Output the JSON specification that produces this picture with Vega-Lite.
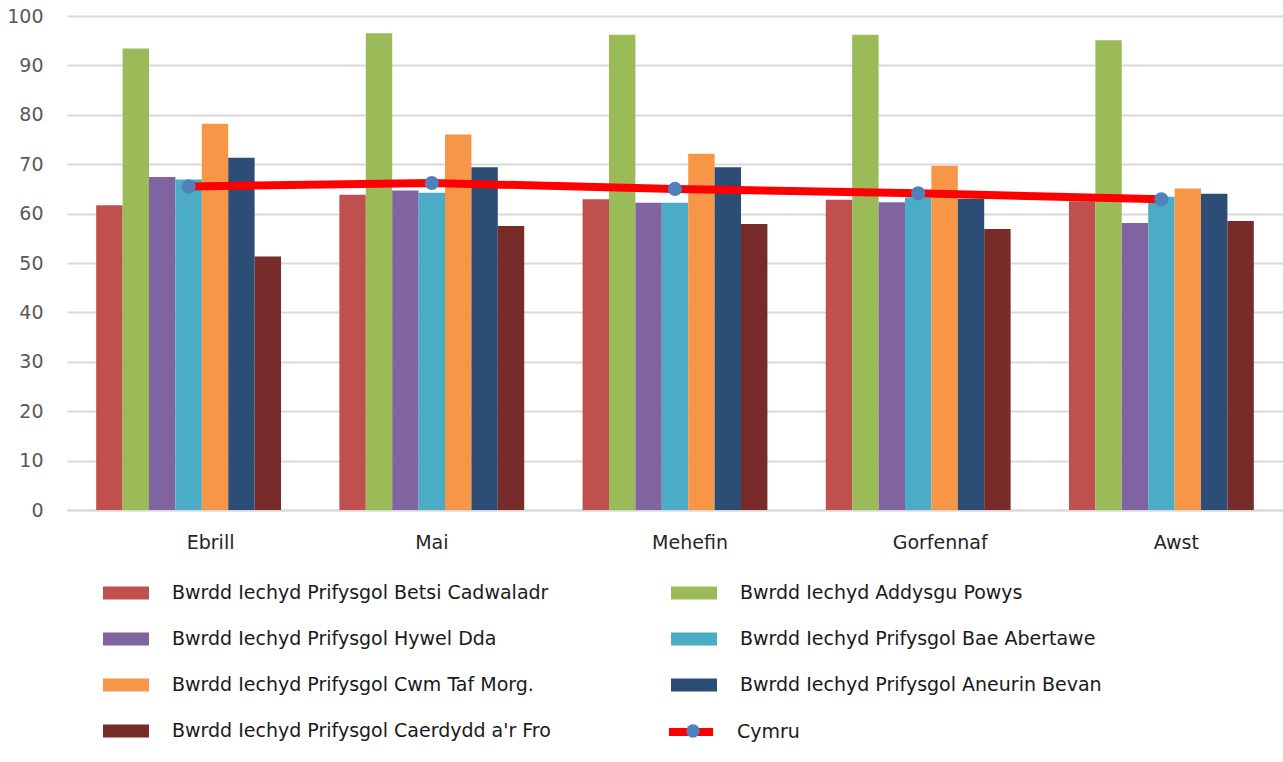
{
  "$schema": "https://vega.github.io/schema/vega-lite/v6.json",
  "width": 1216,
  "height": 494,
  "autosize": {"type": "none"},
  "padding": {"left": 67, "top": 16, "right": 0, "bottom": 252},
  "background": "#ffffff",
  "config": {
    "view": {"stroke": null},
    "font": "DejaVu Sans"
  },
  "datasets": {
    "boards": [
      {"month": "Ebrill", "series": "Bwrdd Iechyd Prifysgol Betsi Cadwaladr", "value": 61.7},
      {"month": "Ebrill", "series": "Bwrdd Iechyd Addysgu Powys", "value": 93.4},
      {"month": "Ebrill", "series": "Bwrdd Iechyd Prifysgol Hywel Dda", "value": 67.4},
      {"month": "Ebrill", "series": "Bwrdd Iechyd Prifysgol Bae Abertawe", "value": 66.9},
      {"month": "Ebrill", "series": "Bwrdd Iechyd Prifysgol Cwm Taf Morg.", "value": 78.2},
      {"month": "Ebrill", "series": "Bwrdd Iechyd Prifysgol Aneurin Bevan", "value": 71.3},
      {"month": "Ebrill", "series": "Bwrdd Iechyd Prifysgol Caerdydd a'r Fro", "value": 51.3},
      {"month": "Mai", "series": "Bwrdd Iechyd Prifysgol Betsi Cadwaladr", "value": 63.8},
      {"month": "Mai", "series": "Bwrdd Iechyd Addysgu Powys", "value": 96.5},
      {"month": "Mai", "series": "Bwrdd Iechyd Prifysgol Hywel Dda", "value": 64.7},
      {"month": "Mai", "series": "Bwrdd Iechyd Prifysgol Bae Abertawe", "value": 64.2},
      {"month": "Mai", "series": "Bwrdd Iechyd Prifysgol Cwm Taf Morg.", "value": 76.0},
      {"month": "Mai", "series": "Bwrdd Iechyd Prifysgol Aneurin Bevan", "value": 69.4},
      {"month": "Mai", "series": "Bwrdd Iechyd Prifysgol Caerdydd a'r Fro", "value": 57.5},
      {"month": "Mehefin", "series": "Bwrdd Iechyd Prifysgol Betsi Cadwaladr", "value": 62.9},
      {"month": "Mehefin", "series": "Bwrdd Iechyd Addysgu Powys", "value": 96.2},
      {"month": "Mehefin", "series": "Bwrdd Iechyd Prifysgol Hywel Dda", "value": 62.2},
      {"month": "Mehefin", "series": "Bwrdd Iechyd Prifysgol Bae Abertawe", "value": 62.2},
      {"month": "Mehefin", "series": "Bwrdd Iechyd Prifysgol Cwm Taf Morg.", "value": 72.1},
      {"month": "Mehefin", "series": "Bwrdd Iechyd Prifysgol Aneurin Bevan", "value": 69.4},
      {"month": "Mehefin", "series": "Bwrdd Iechyd Prifysgol Caerdydd a'r Fro", "value": 57.9},
      {"month": "Gorfennaf", "series": "Bwrdd Iechyd Prifysgol Betsi Cadwaladr", "value": 62.8},
      {"month": "Gorfennaf", "series": "Bwrdd Iechyd Addysgu Powys", "value": 96.2},
      {"month": "Gorfennaf", "series": "Bwrdd Iechyd Prifysgol Hywel Dda", "value": 62.3},
      {"month": "Gorfennaf", "series": "Bwrdd Iechyd Prifysgol Bae Abertawe", "value": 63.3},
      {"month": "Gorfennaf", "series": "Bwrdd Iechyd Prifysgol Cwm Taf Morg.", "value": 69.7},
      {"month": "Gorfennaf", "series": "Bwrdd Iechyd Prifysgol Aneurin Bevan", "value": 63.0},
      {"month": "Gorfennaf", "series": "Bwrdd Iechyd Prifysgol Caerdydd a'r Fro", "value": 56.9},
      {"month": "Awst", "series": "Bwrdd Iechyd Prifysgol Betsi Cadwaladr", "value": 62.5},
      {"month": "Awst", "series": "Bwrdd Iechyd Addysgu Powys", "value": 95.1},
      {"month": "Awst", "series": "Bwrdd Iechyd Prifysgol Hywel Dda", "value": 58.1},
      {"month": "Awst", "series": "Bwrdd Iechyd Prifysgol Bae Abertawe", "value": 63.4},
      {"month": "Awst", "series": "Bwrdd Iechyd Prifysgol Cwm Taf Morg.", "value": 65.1},
      {"month": "Awst", "series": "Bwrdd Iechyd Prifysgol Aneurin Bevan", "value": 64.0},
      {"month": "Awst", "series": "Bwrdd Iechyd Prifysgol Caerdydd a'r Fro", "value": 58.5}
    ],
    "cymru": [
      {"month": "Ebrill", "value": 65.5},
      {"month": "Mai", "value": 66.2},
      {"month": "Mehefin", "value": 65.0},
      {"month": "Gorfennaf", "value": 64.1},
      {"month": "Awst", "value": 62.9}
    ]
  },
  "encoding": {
    "x": {
      "field": "month",
      "type": "nominal",
      "sort": ["Ebrill", "Mai", "Mehefin", "Gorfennaf", "Awst"],
      "scale": {"paddingInner": 0.24, "paddingOuter": 0.12},
      "axis": {
        "title": null,
        "labelAngle": 0,
        "labelFont": "DejaVu Sans",
        "labelFontSize": 19,
        "labelColor": "#262626",
        "labelPadding": 23,
        "labelOffset": {"condition": [{"test": "datum.value === 'Mai'", "value": 0}, {"test": "datum.value === 'Mehefin' || datum.value === 'Awst'", "value": 15}], "value": 22},
        "ticks": false,
        "tickSize": 0,
        "domainColor": "#d9d9d9",
        "domainWidth": 2,
        "grid": false
      }
    },
    "y": {
      "field": "value",
      "type": "quantitative",
      "scale": {"domain": [0, 100], "nice": false},
      "axis": {
        "title": null,
        "values": [0, 10, 20, 30, 40, 50, 60, 70, 80, 90, 100],
        "labelFont": "DejaVu Sans",
        "labelFontSize": 19,
        "labelColor": "#595959",
        "labelPadding": 24,
        "ticks": false,
        "tickSize": 0,
        "domain": false,
        "grid": true,
        "gridColor": "#d9d9d9",
        "gridWidth": 2
      }
    }
  },
  "layer": [
    {
      "data": {"name": "boards"},
      "mark": {"type": "bar"},
      "encoding": {
        "xOffset": {
          "field": "series",
          "type": "nominal",
          "sort": [
            "Bwrdd Iechyd Prifysgol Betsi Cadwaladr",
            "Bwrdd Iechyd Addysgu Powys",
            "Bwrdd Iechyd Prifysgol Hywel Dda",
            "Bwrdd Iechyd Prifysgol Bae Abertawe",
            "Bwrdd Iechyd Prifysgol Cwm Taf Morg.",
            "Bwrdd Iechyd Prifysgol Aneurin Bevan",
            "Bwrdd Iechyd Prifysgol Caerdydd a'r Fro"
          ],
          "scale": {"paddingInner": 0, "paddingOuter": 0}
        },
        "color": {
          "field": "series",
          "type": "nominal",
          "scale": {
            "domain": [
              "Bwrdd Iechyd Prifysgol Betsi Cadwaladr",
              "Bwrdd Iechyd Prifysgol Hywel Dda",
              "Bwrdd Iechyd Prifysgol Cwm Taf Morg.",
              "Bwrdd Iechyd Prifysgol Caerdydd a'r Fro",
              "Bwrdd Iechyd Addysgu Powys",
              "Bwrdd Iechyd Prifysgol Bae Abertawe",
              "Bwrdd Iechyd Prifysgol Aneurin Bevan"
            ],
            "range": ["#c0504d", "#8064a2", "#f79646", "#772c2a", "#9bbb59", "#4bacc6", "#2c4d75"]
          },
          "legend": {
            "title": null,
            "orient": "none",
            "legendX": 44,
            "legendY": 562,
            "columns": 2,
            "direction": "vertical",
            "padding": 0,
            "symbolType": "M-1.533,-0.433H1.533V0.433H-1.533Z",
            "symbolSize": 900,
            "symbolStrokeWidth": 0,
            "symbolOpacity": 1,
            "labelFont": "DejaVu Sans",
            "labelFontSize": 19,
            "labelColor": "#1a1a1a",
            "labelOffset": 31,
            "labelLimit": 1000,
            "rowPadding": 21,
            "columnPadding": 120
          }
        }
      }
    },
    {
      "data": {"name": "cymru"},
      "mark": {"type": "line", "strokeWidth": 8},
      "encoding": {
        "order": {"value": null},
        "stroke": {
          "datum": "Cymru",
          "scale": {"domain": ["Cymru"], "range": ["#ff0000"]},
          "legend": {
            "title": null,
            "orient": "none",
            "legendX": 605,
            "legendY": 697,
            "padding": 0,
            "symbolType": "M-1.47,0H1.47",
            "symbolSize": 900,
            "symbolStrokeWidth": 8,
            "labelFont": "DejaVu Sans",
            "labelFontSize": 19,
            "labelColor": "#1a1a1a",
            "labelOffset": 27
          }
        }
      }
    },
    {
      "data": {"name": "cymru"},
      "mark": {"type": "point", "filled": true, "opacity": 1, "size": 200},
      "encoding": {
        "fill": {
          "datum": "dot",
          "scale": {"domain": ["dot"], "range": ["#4f81bd"]},
          "legend": {
            "title": null,
            "orient": "none",
            "legendX": 619,
            "legendY": 708,
            "padding": 0,
            "symbolType": "circle",
            "symbolSize": 180,
            "symbolStrokeWidth": 0,
            "symbolOpacity": 1,
            "labelExpr": "''",
            "labelFontSize": 1,
            "labelOffset": 0
          }
        }
      }
    }
  ]
}
